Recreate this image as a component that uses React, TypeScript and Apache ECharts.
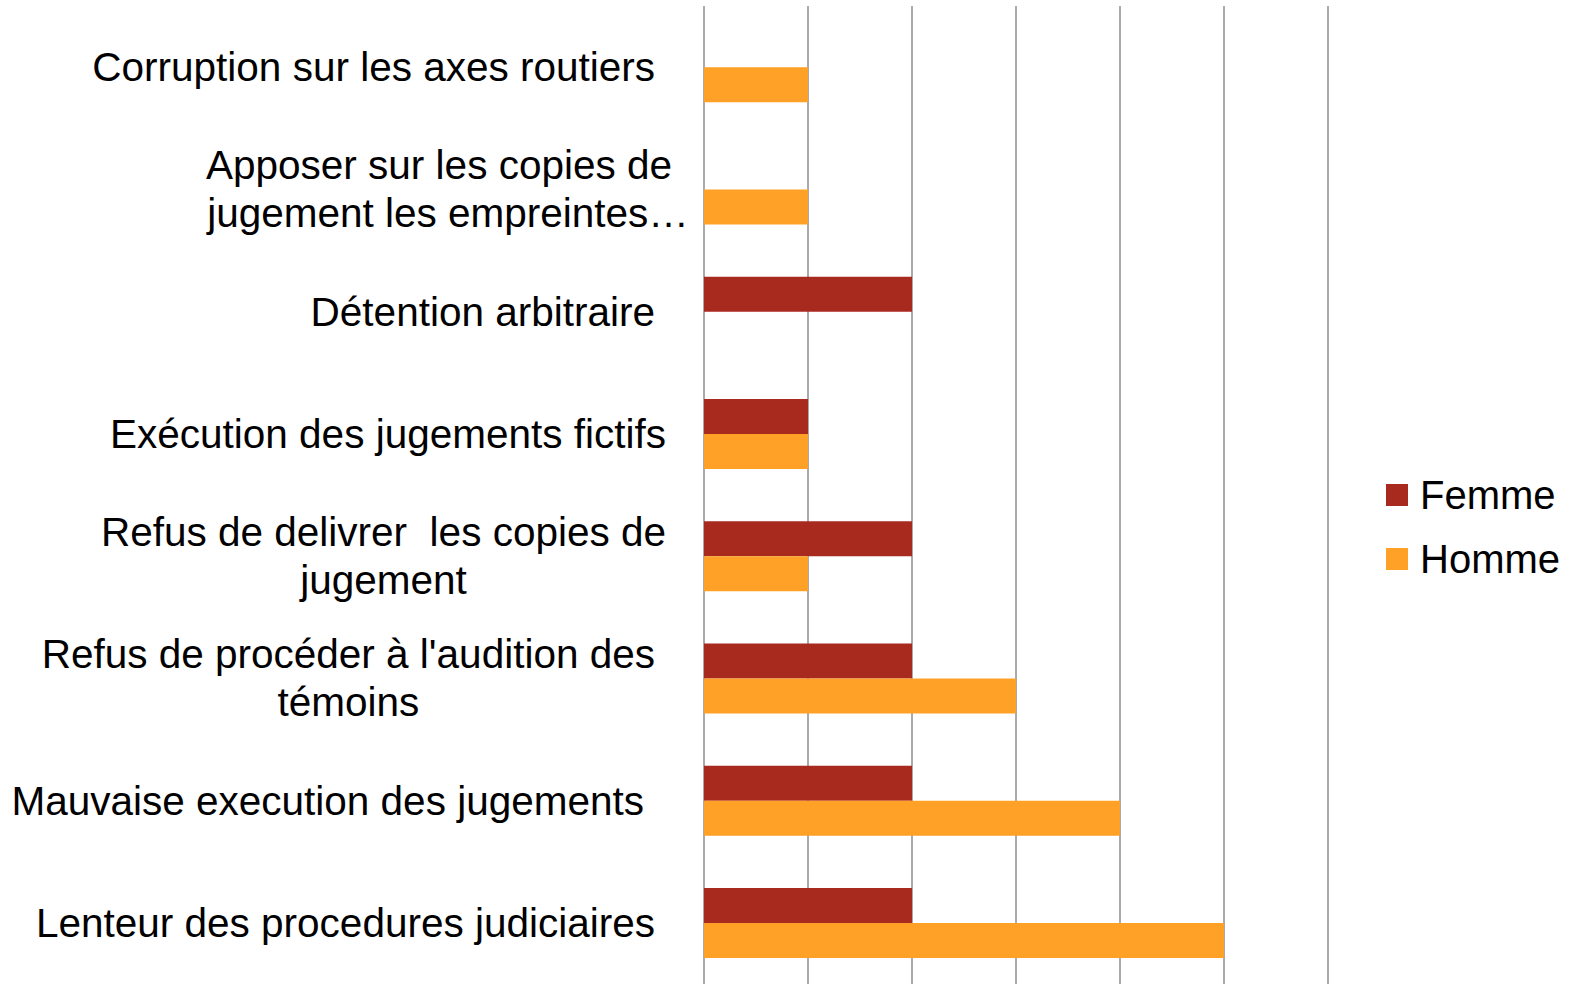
import React, { useEffect, useRef } from "react";
import * as echarts from "echarts";

// Categories in axis order (bottom to top)
const categories: string[] = [
  "Lenteur des procedures judiciaires",
  "Mauvaise execution des jugements",
  "Refus de procéder à l'audition des\ntémoins",
  "Refus de delivrer  les copies de\njugement",
  "Exécution des jugements fictifs",
  "Détention arbitraire",
  "Apposer sur les copies de\njugement les empreintes…",
  "Corruption sur les axes routiers",
];

const seriesNames: string[] = ["Femme", "Homme"];
const femmeValues: number[] = [2, 2, 2, 2, 1, 2, 0, 0];
const hommeValues: number[] = [5, 4, 3, 1, 1, 0, 1, 1];

const xTicks: number[] = [0, 1, 2, 3, 4, 5, 6];

export default function App() {
  const ref = useRef<HTMLDivElement>(null);

  useEffect(() => {
    if (!ref.current) return;
    const chart = echarts.init(ref.current, undefined, { renderer: "svg" });

    const font = "'Liberation Sans', Arial, sans-serif";
    // right padding (px) per category line, layout only
    const linePads: number[][] = [
      [35],
      [46],
      [35, 35],
      [24, 24],
      [24],
      [35],
      [18, 0],
      [35],
    ];
    const padSet = [0, 18, 24, 35, 46];
    const rich: Record<string, any> = {};
    padSet.forEach((p) => {
      rich["p" + p] = {
        align: "center",
        padding: [0, p, 0, 0],
        fontSize: 40.5,
        lineHeight: 48,
        fontFamily: font,
        color: "#000",
      };
    });

    chart.setOption({
      animation: false,
      backgroundColor: "#fff",
      grid: { left: 704, top: 6, width: 624, bottom: 0, containLabel: false },
      legend: {
        data: seriesNames,
        orient: "vertical",
        left: 1381,
        top: 469,
        itemWidth: 22,
        itemHeight: 22,
        itemGap: 22,
        icon: "rect",
        textStyle: {
          fontSize: 40,
          lineHeight: 42,
          fontFamily: font,
          color: "#000",
          padding: [0, 0, 0, 7],
        },
      },
      xAxis: {
        type: "value",
        min: xTicks[0],
        max: xTicks[xTicks.length - 1],
        interval: 1,
        axisLabel: { show: false },
        axisLine: { show: false },
        axisTick: { show: false },
        splitLine: { show: true, lineStyle: { color: "#8e8e8e", width: 1.5 } },
      },
      yAxis: {
        type: "category",
        data: categories,
        axisLine: { show: false },
        axisTick: { show: false },
        axisLabel: {
          margin: 14,
          formatter: (value: string, idx: number) => {
            const lines = value.split("\n");
            return lines
              .map((ln, li) => `{p${(linePads[idx] || [0])[li] ?? 0}|${ln}}`)
              .join("\n");
          },
          rich,
        },
      },
      series: [
        {
          name: seriesNames[0],
          type: "bar",
          data: femmeValues,
          barWidth: 35,
          barGap: "0%",
          itemStyle: { color: "#A8291E" },
        },
        {
          name: seriesNames[1],
          type: "bar",
          data: hommeValues,
          barWidth: 35,
          barGap: "0%",
          itemStyle: { color: "#FFA126" },
        },
      ],
    });

    return () => chart.dispose();
  }, []);

  return (
    <div
      ref={ref}
      style={{ position: "absolute", left: 0, top: 0, width: 1577, height: 984 }}
    />
  );
}
